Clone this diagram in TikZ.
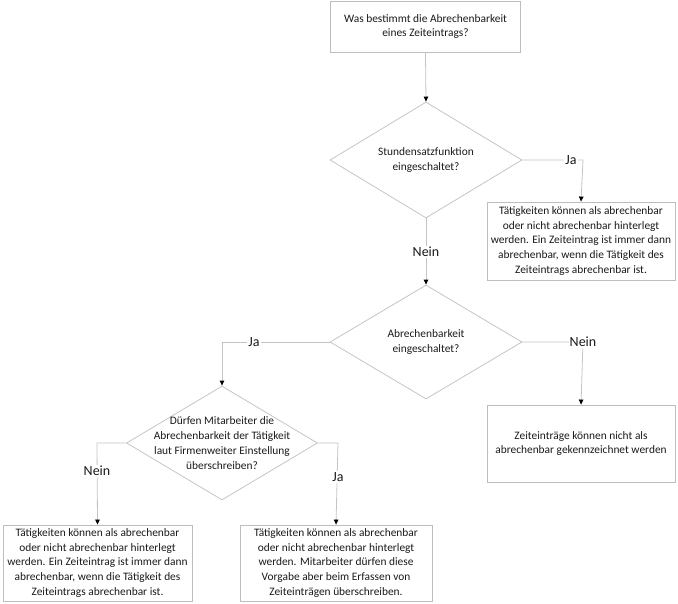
\documentclass[tikz,border=0pt]{standalone}
\usepackage{fontspec}
\setmainfont{Carlito}
\usetikzlibrary{shapes.geometric,arrows.meta}
\definecolor{linegray}{HTML}{C4C4C4}
\definecolor{boxgray}{HTML}{BDBDBD}
\definecolor{txt}{HTML}{1A1A1A}
\tikzset{
  box/.style={draw=boxgray, line width=0.9pt, fill=white, inner sep=0pt, align=center,
    text=txt, font=\fontsize{11.4}{14.8}\selectfont},
  dia/.style={draw=linegray, line width=0.8pt, diamond, inner sep=0pt},
  diatext/.style={align=center, text=txt, font=\fontsize{11.4}{14.8}\selectfont},
  conn/.style={draw=linegray, line width=0.8pt, -{Triangle[length=5pt,width=4.5pt,color=black]}},
  lbl/.style={fill=white, inner sep=1pt, text=txt, font=\fontsize{14}{16}\selectfont},
}
\begin{document}
\begin{tikzpicture}[x=1pt,y=-1pt]
\useasboundingbox (0,0) rectangle (678,603);
% boxes
\node[box, minimum width=190pt, minimum height=51pt] (top) at (425.5,26.5)
  {Was bestimmt die Abrechenbarkeit\\eines Zeiteintrags?};
\node[box, minimum width=188pt, minimum height=78pt] (r1) at (581,241)
  {Tätigkeiten können als abrechenbar\\oder nicht abrechenbar hinterlegt\\werden. Ein Zeiteintrag ist immer dann\\abrechenbar, wenn die Tätigkeit des\\Zeiteintrags abrechenbar ist.};
\node[box, minimum width=188pt, minimum height=77pt] (r2) at (581,443.5)
  {Zeiteinträge können nicht als\\abrechenbar gekennzeichnet werden};
\node[box, minimum width=189pt, minimum height=76pt] (bl) at (97.5,563)
  {Tätigkeiten können als abrechenbar\\oder nicht abrechenbar hinterlegt\\werden. Ein Zeiteintrag ist immer dann\\abrechenbar, wenn die Tätigkeit des\\Zeiteintrags abrechenbar ist.};
\node[box, minimum width=192pt, minimum height=76pt] (bm) at (336,563)
  {Tätigkeiten können als abrechenbar\\oder nicht abrechenbar hinterlegt\\werden. Mitarbeiter dürfen diese\\Vorgabe aber beim Erfassen von\\Zeiteinträgen überschreiben.};
% diamonds
\node[dia, minimum width=192pt, minimum height=116pt] (d1) at (426,160) {};
\node[diatext] (t1) at (426,160) {Stundensatzfunktion\\eingeschaltet?};
\node[dia, minimum width=192pt, minimum height=114pt] (d2) at (426,342) {};
\node[diatext] (t2) at (426,342) {Abrechenbarkeit\\eingeschaltet?};
\node[dia, minimum width=191pt, minimum height=114pt] (d3) at (222,443) {};
\node[diatext] (t3) at (222,443) {Dürfen Mitarbeiter die\\Abrechenbarkeit der Tätigkeit\\laut Firmenweiter Einstellung\\überschreiben?};
% corners
\coordinate (c1) at (583,160);
\coordinate (c2) at (222,342);
\coordinate (c3) at (583,342);
\coordinate (c4) at (97,443);
\coordinate (c5) at (338,443);
% connectors
\draw[conn] (top.south) -- (d1.north);
\draw[conn] (d1.east) -- (c1) -- (r1.north);
\draw[conn] (d1.south) -- (d2.north);
\draw[conn] (d2.west) -- (c2) -- (d3.north);
\draw[conn] (d2.east) -- (c3) -- (r2.north);
\draw[conn] (d3.west) -- (c4) -- (bl.north);
\draw[conn] (d3.east) -- (c5) -- (bm.north);
% labels
\node[lbl] (l1) at (571,160) {Ja};
\node[lbl] (l2) at (426,252) {Nein};
\node[lbl] (l3) at (254,342) {Ja};
\node[lbl] (l4) at (583,342) {Nein};
\node[lbl] (l5) at (97,471) {Nein};
\node[lbl] (l6) at (338,477) {Ja};
\end{tikzpicture}
\end{document}
